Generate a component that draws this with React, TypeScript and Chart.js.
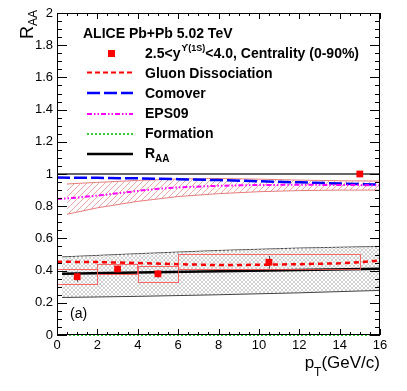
import React, { useEffect, useRef } from "react";
import { Chart, registerables } from "chart.js";
Chart.register(...registerables);

const FONT = "'Liberation Sans', Arial, Helvetica, sans-serif";

// ---- axes ----
const xTickValues = [0, 2, 4, 6, 8, 10, 12, 14, 16];
const xTickLabels = ["0", "2", "4", "6", "8", "10", "12", "14", "16"];
const yTickValues = [0, 0.2, 0.4, 0.6, 0.8, 1, 1.2, 1.4, 1.6, 1.8, 2];
const yTickLabels = ["0", "0.2", "0.4", "0.6", "0.8", "1", "1.2", "1.4", "1.6", "1.8", "2"];

// ---- R_AA curve and its band ----
const raaX = [0.25, 4, 8, 12, 16];
const raaY = [0.38, 0.388, 0.396, 0.404, 0.411];
const raaBandUpper = [0.485, 0.505, 0.525, 0.54, 0.55];
const raaBandLower = [0.233, 0.24, 0.25, 0.262, 0.277];

// ---- Gluon dissociation ----
const gluonX = [0, 2, 4, 6, 8, 10, 12, 14, 15, 16];
const gluonY = [0.455, 0.453, 0.447, 0.44, 0.434, 0.436, 0.44, 0.445, 0.452, 0.462];

// ---- Comover ----
const comoverX = [0, 2, 4, 6, 8, 10, 12, 14, 16];
const comoverY = [0.978, 0.976, 0.973, 0.968, 0.962, 0.955, 0.948, 0.941, 0.934];

// ---- EPS09 central + band ----
const eps09X = [0, 1, 2, 3, 4, 5, 6, 8, 10, 12, 14, 16];
const eps09Y = [0.844, 0.853, 0.866, 0.88, 0.895, 0.908, 0.917, 0.927, 0.932, 0.933, 0.932, 0.93];
const epsBandX = [0.5, 2, 4, 6, 8, 10, 12, 14, 16];
const epsBandUpper = [0.938, 0.948, 0.96, 0.969, 0.972, 0.968, 0.962, 0.958, 0.956];
const epsBandLower = [0.75, 0.79, 0.83, 0.86, 0.878, 0.89, 0.897, 0.9, 0.9];

// ---- Formation ----
const formationX = [0, 16];
const formationY = [0, 0];

// ---- unity reference ----
const unityX = [0, 16];
const unityY = [1, 1];

// ---- data points ----
const dataX = [1, 3, 5, 10.5, 15];
const dataY = [0.362, 0.41, 0.38, 0.452, 1.0];
const statErr = [0.032, 0.02, 0.022, 0.04, 0];
const boxXLow = [0, 2, 4, 6];
const boxXHigh = [2, 4, 6, 15];
const boxYLow = [0.316, 0.378, 0.329, 0.41];
const boxYHigh = [0.411, 0.44, 0.426, 0.504];

const toXY = (xs: number[], ys: number[]) => xs.map((x, i) => ({ x, y: ys[i] }));

function makeHatch(color: string, cross: boolean, size: number) {
  const c = document.createElement("canvas");
  c.width = size;
  c.height = size;
  const g = c.getContext("2d")!;
  g.strokeStyle = color;
  g.lineWidth = 1;
  g.beginPath();
  g.moveTo(0, size);
  g.lineTo(size, 0);
  g.moveTo(-1, 1);
  g.lineTo(1, -1);
  g.moveTo(size - 1, size + 1);
  g.lineTo(size + 1, size - 1);
  if (cross) {
    g.moveTo(0, 0);
    g.lineTo(size, size);
    g.moveTo(-1, size - 1);
    g.lineTo(1, size + 1);
    g.moveTo(size - 1, -1);
    g.lineTo(size + 1, 1);
  }
  g.stroke();
  return g.createPattern(c, "repeat")!;
}

const POINTS_INDEX = 10;

const decorPlugin = {
  id: "decor",
  beforeDatasetDraw(chart: any, args: any) {
    if (args.index !== POINTS_INDEX) return;
    const { ctx } = chart;
    const x = chart.scales.x;
    const y = chart.scales.y;
    ctx.save();
    ctx.strokeStyle = "rgba(255,80,80,0.85)";
    ctx.lineWidth = 1;
    for (let i = 0; i < boxXLow.length; i++) {
      const l = x.getPixelForValue(boxXLow[i]);
      const r = x.getPixelForValue(boxXHigh[i]);
      const t = y.getPixelForValue(boxYHigh[i]);
      const b = y.getPixelForValue(boxYLow[i]);
      ctx.strokeRect(Math.round(l) + 0.5, Math.round(t) + 0.5, Math.round(r - l), Math.round(b - t));
    }
    ctx.strokeStyle = "#555";
    ctx.beginPath();
    for (let i = 0; i < dataX.length; i++) {
      if (!statErr[i]) continue;
      const px = Math.round(x.getPixelForValue(dataX[i])) + 0.5;
      ctx.moveTo(px, y.getPixelForValue(dataY[i] - statErr[i]));
      ctx.lineTo(px, y.getPixelForValue(dataY[i] + statErr[i]));
    }
    ctx.stroke();
    ctx.restore();
  },
  afterDraw(chart: any) {
    const { ctx, chartArea: a } = chart;
    const x = chart.scales.x;
    const y = chart.scales.y;
    ctx.save();
    // frame
    ctx.strokeStyle = "#000";
    ctx.lineWidth = 1;
    ctx.strokeRect(Math.round(a.left) + 0.5, Math.round(a.top) + 0.5, Math.round(a.right - a.left) - 1, Math.round(a.bottom - a.top) - 1);
    // ticks
    ctx.beginPath();
    for (let v = 0; v <= 16.0001; v += 0.5) {
      const px = Math.round(x.getPixelForValue(v)) + 0.5;
      const major = Math.abs(v / 2 - Math.round(v / 2)) < 1e-6;
      const len = major ? 6 : 3;
      ctx.moveTo(px, a.bottom);
      ctx.lineTo(px, a.bottom - len);
      ctx.moveTo(px, a.top);
      ctx.lineTo(px, a.top + len);
    }
    for (let k = 0; k <= 40; k++) {
      const v = k * 0.05;
      const py = Math.round(y.getPixelForValue(v)) + 0.5;
      const len = k % 4 === 0 ? 10 : 5;
      ctx.moveTo(a.left, py);
      ctx.lineTo(a.left + len, py);
      ctx.moveTo(a.right, py);
      ctx.lineTo(a.right - len, py);
    }
    ctx.stroke();

    // legend
    ctx.fillStyle = "#000";
    ctx.textBaseline = "alphabetic";
    ctx.textAlign = "left";
    ctx.font = `bold 14px ${FONT}`;
    ctx.fillText("ALICE Pb+Pb 5.02 TeV", 83, 38);

    const tx = 145;
    // entry 1
    ctx.fillStyle = "#ff0000";
    ctx.fillRect(108, 50, 7, 7);
    ctx.fillStyle = "#000";
    ctx.font = `bold 14px ${FONT}`;
    let cx = tx;
    ctx.fillText("2.5<y", cx, 57.5);
    cx += ctx.measureText("2.5<y").width + 1;
    ctx.font = `bold 9px ${FONT}`;
    ctx.fillText("\u03D2(1S)", cx, 51);
    cx += ctx.measureText("\u03D2(1S)").width;
    ctx.font = `bold 14px ${FONT}`;
    ctx.fillText("<4.0, Centrality (0-90%)", cx, 57.5);

    const sample = (yy: number, color: string, dash: number[], w: number) => {
      ctx.save();
      ctx.strokeStyle = color;
      ctx.lineWidth = w;
      ctx.setLineDash(dash);
      ctx.beginPath();
      ctx.moveTo(87, yy);
      ctx.lineTo(133, yy);
      ctx.stroke();
      ctx.restore();
    };
    sample(72.5, "#ff0000", [5, 3], 2);
    sample(93, "#0000ff", [13, 4], 2.5);
    sample(114, "#ff00ff", [5, 2, 1.5, 2, 1.5, 2], 2);
    sample(134, "#33cc33", [2, 2], 2);
    sample(154, "#000000", [], 2.5);
    ctx.fillText("Gluon Dissociation", tx, 77.5);
    ctx.fillText("Comover", tx, 97.5);
    ctx.fillText("EPS09", tx, 118);
    ctx.fillText("Formation", tx, 138);
    ctx.fillText("R", tx, 157.5);
    const rw = ctx.measureText("R").width;
    ctx.font = `bold 10px ${FONT}`;
    ctx.fillText("AA", tx + rw, 162);

    // (a)
    ctx.font = `14px ${FONT}`;
    ctx.fillText("(a)", 70, 318);

    // x title
    ctx.font = `17px ${FONT}`;
    const wp = ctx.measureText("p").width;
    const wg = ctx.measureText("(GeV/c)").width;
    ctx.font = `12px ${FONT}`;
    const wt = ctx.measureText("T").width;
    let sx = a.right - (wp + wt + wg);
    ctx.font = `17px ${FONT}`;
    ctx.fillText("p", sx, 368);
    ctx.font = `12px ${FONT}`;
    ctx.fillText("T", sx + wp, 376);
    ctx.font = `17px ${FONT}`;
    ctx.fillText("(GeV/c)", sx + wp + wt, 368);

    // y title (rotated)
    ctx.translate(33, 39);
    ctx.rotate(-Math.PI / 2);
    ctx.font = `18px ${FONT}`;
    ctx.fillText("R", 0, 0);
    const wr = ctx.measureText("R").width;
    ctx.font = `12px ${FONT}`;
    ctx.fillText("AA", wr, 4);
    ctx.restore();
  },
};

export default function App() {
  const ref = useRef<HTMLCanvasElement | null>(null);
  useEffect(() => {
    const canvas = ref.current!;
    const grayHatch = makeHatch("#d2d2d2", true, 4);
    const redHatch = makeHatch("rgba(232,150,150,0.85)", false, 6);
    const line = (data: any, color: string, width: number, dash: number[], order: number, extra: any = {}) => ({
      data,
      borderColor: color,
      borderWidth: width,
      borderDash: dash,
      pointRadius: 0,
      fill: false,
      tension: 0,
      order,
      ...extra,
    });
    const datasets: any[] = [
      line(toXY(raaX, raaBandUpper), "#444", 1, [], 100),
      line(toXY(raaX, raaBandLower), "#444", 1, [], 99, { fill: { target: 0 }, backgroundColor: grayHatch }),
      line(toXY(epsBandX, epsBandUpper), "rgba(230,110,110,0.9)", 1, [], 90),
      line(toXY(epsBandX, epsBandLower), "rgba(230,110,110,0.9)", 1, [], 89, { fill: { target: 2 }, backgroundColor: redHatch }),
      line(toXY(unityX, unityY), "#333", 1.5, [], 80),
      line(toXY(formationX, formationY), "#33cc33", 2, [2, 2], 70, { clip: false }),
      line(toXY(gluonX, gluonY), "#ff0000", 2.5, [5, 4], 60),
      line(toXY(comoverX, comoverY), "#0000ff", 2.5, [13, 4], 50),
      line(toXY(eps09X, eps09Y), "#ff00ff", 2, [5, 2, 1.5, 2, 1.5, 2], 40),
      line(toXY(raaX, raaY), "#000", 2.5, [], 35),
      {
        data: toXY(dataX, dataY),
        showLine: false,
        pointStyle: "rect",
        pointRadius: 4.8,
        pointBackgroundColor: "#ff0000",
        pointBorderColor: "#ff0000",
        pointBorderWidth: 0,
        order: 0,
      },
    ];
    const chart = new Chart(canvas, {
      type: "line",
      data: { datasets },
      options: {
        animation: false,
        responsive: false,
        devicePixelRatio: 1,
        layout: { padding: { left: 0, right: 27, top: 13, bottom: 0 } },
        plugins: { legend: { display: false }, tooltip: { enabled: false } },
        scales: {
          x: {
            type: "linear",
            min: 0,
            max: 16,
            afterFit: (s: any) => {
              s.height = 56;
            },
            afterBuildTicks: (s: any) => {
              s.ticks = xTickValues.map((value) => ({ value }));
            },
            ticks: {
              autoSkip: false,
              maxRotation: 0,
              padding: 3,
              color: "#000",
              font: { family: FONT, size: 13 },
              callback: (v: any) => xTickLabels[xTickValues.indexOf(Number(v))] ?? "",
            },
            grid: { display: false, drawTicks: false },
            border: { display: false },
          },
          y: {
            type: "linear",
            min: 0,
            max: 2,
            afterFit: (s: any) => {
              s.width = 57;
            },
            afterBuildTicks: (s: any) => {
              s.ticks = yTickValues.map((value) => ({ value }));
            },
            ticks: {
              autoSkip: false,
              padding: 4,
              color: "#000",
              font: { family: FONT, size: 13 },
              callback: (v: any) => yTickLabels[Math.round(Number(v) / 0.2)] ?? "",
            },
            grid: { display: false, drawTicks: false },
            border: { display: false },
          },
        },
      },
      plugins: [decorPlugin],
    } as any);
    return () => chart.destroy();
  }, []);
  return (
    <div style={{ position: "fixed", left: 0, top: 0, width: 407, height: 391, background: "#fff" }}>
      <canvas ref={ref} width={407} height={391} style={{ display: "block" }} />
    </div>
  );
}
